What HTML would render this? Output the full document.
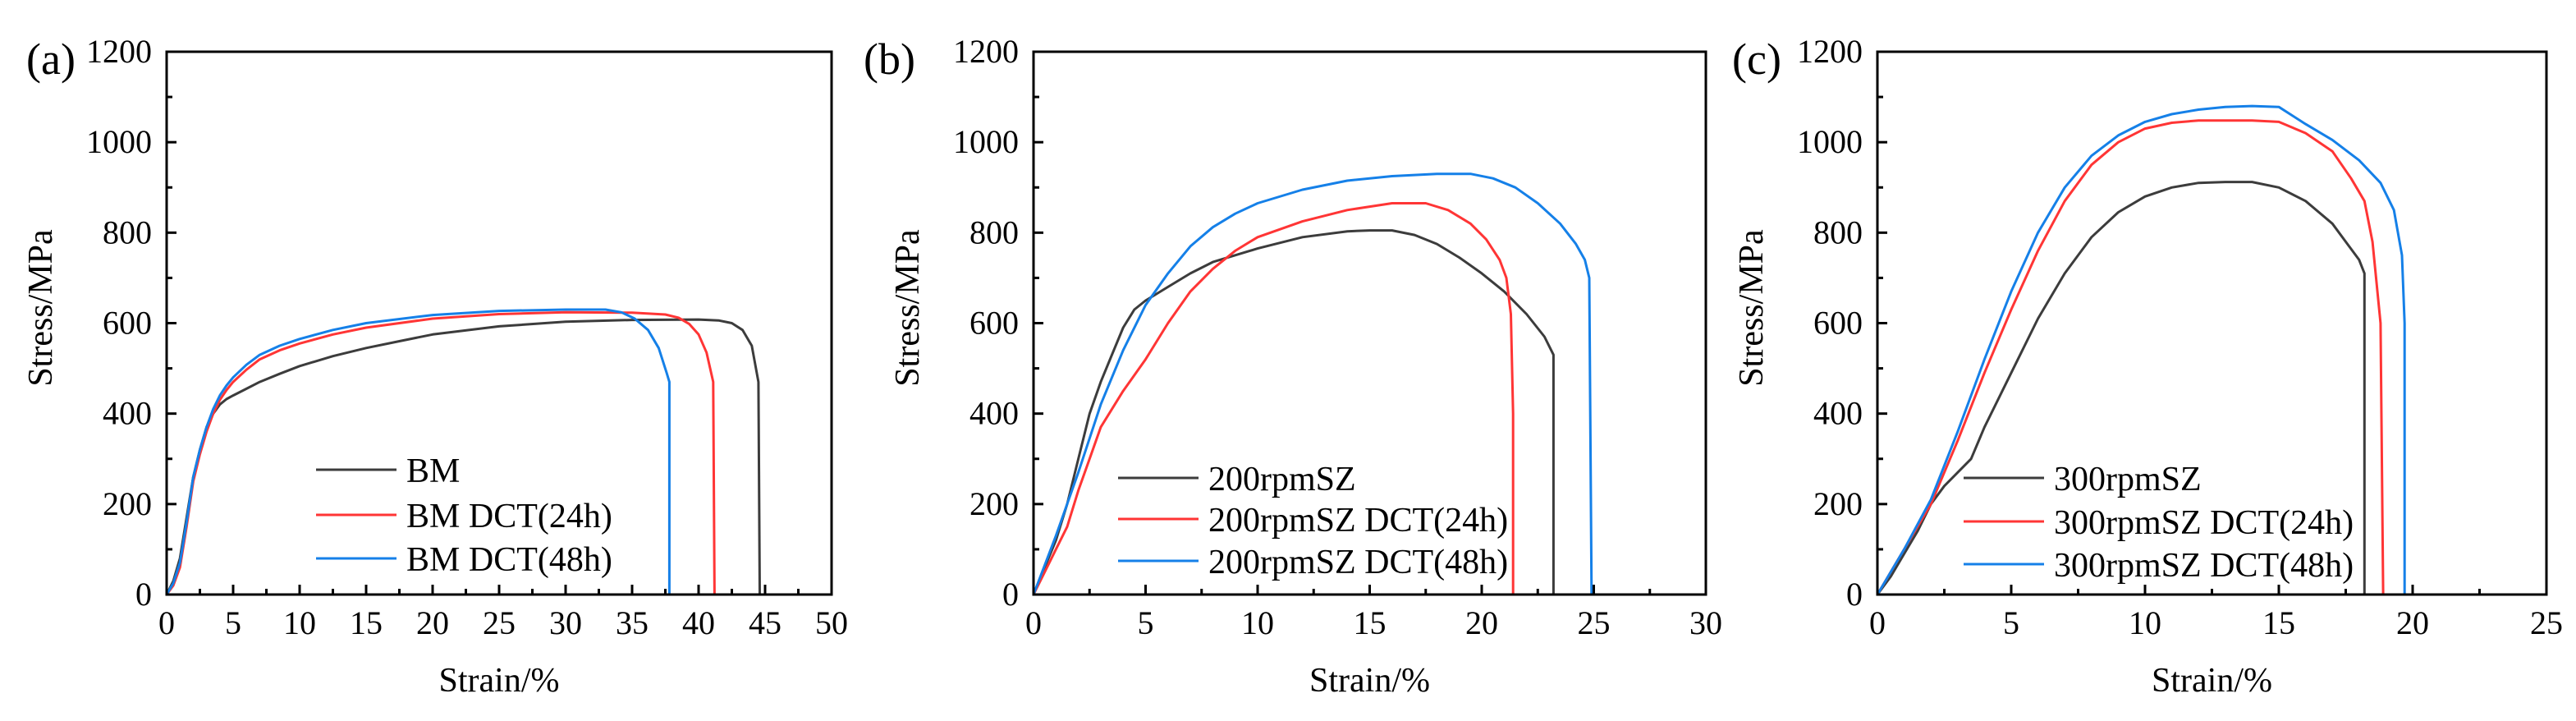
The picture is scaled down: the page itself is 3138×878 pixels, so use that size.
<!DOCTYPE html>
<html><head><meta charset="utf-8"><style>
html,body{margin:0;padding:0;background:#fff;}
svg, svg text{font-family:"Liberation Serif","Times New Roman",serif;}
</style></head><body>
<svg id="fig" width="3138" height="873" viewBox="0 0 3138 873" font-family="Liberation Serif, serif"></svg>
<script>
// Panel (a) data
const aBM = [[0,0],[0.5,30],[1,80],[1.5,170],[2,260],[2.5,320],[3,370],[3.5,400],[4,420],[4.5,432],[5,440],[6,455],[7,470],[8.5,488],[10,505],[12.5,527],[15,545],[17.5,560],[20,575],[25,593],[30,603],[35,607],[40,608],[41.5,606],[42.5,600],[43.3,585],[44,550],[44.5,470],[44.6,0]];
const aDCT24 = [[0,0],[0.5,20],[1,60],[1.5,150],[2,250],[2.5,310],[3,360],[3.5,400],[4,430],[4.5,452],[5,470],[6,497],[7,520],[8.5,540],[10,555],[12.5,575],[15,590],[20,610],[25,620],[30,624],[35,623],[37.5,619],[38.5,612],[39.3,598],[40,575],[40.6,535],[41.1,470],[41.2,0]];
const aDCT48 = [[0,0],[0.5,25],[1,70],[1.5,160],[2,260],[2.5,320],[3,370],[3.5,410],[4,440],[4.5,462],[5,480],[6,508],[7,530],[8.5,550],[10,565],[12.5,585],[15,600],[20,618],[25,627],[30,630],[33,630],[34.2,624],[35.2,610],[36.2,585],[37,545],[37.6,490],[37.8,470],[37.8,0]];
// Panel (b) data
const bSZ = [[0,0],[1,120],[1.5,200],[2,300],[2.5,400],[3,470],[3.5,530],[4,590],[4.5,630],[5,650],[6,680],[7,710],[8,735],[10,765],[12,790],[14,803],[15,805],[16,805],[17,795],[18,775],[19,745],[20,710],[21,670],[22,620],[22.8,570],[23.2,530],[23.2,0]];
const bDCT24 = [[0,0],[0.5,50],[1,100],[1.5,150],[2,230],[2.5,300],[3,370],[4,450],[5,520],[6,600],[7,670],[8,720],[9,760],[10,790],[12,825],[14,850],[16,865],[17.5,865],[18.5,850],[19.5,820],[20.2,785],[20.8,740],[21.1,700],[21.3,620],[21.4,400],[21.4,0]];
const bDCT48 = [[0,0],[1,130],[2,270],[3,420],[4,540],[5,640],[6,710],[7,770],[8,812],[9,842],[10,865],[12,895],[14,915],[16,925],[18,930],[19.5,930],[20.5,920],[21.5,900],[22.5,865],[23.5,820],[24.2,775],[24.6,740],[24.8,700],[24.9,0]];
// Panel (c) data
const cSZ = [[0,0],[0.5,40],[1,90],[1.5,140],[2,200],[2.5,240],[3,270],[3.5,300],[4,370],[5,490],[6,610],[7,710],[8,790],[9,845],[10,880],[11,900],[12,910],[13,912],[14,912],[15,900],[16,870],[17,820],[17.5,780],[18,740],[18.2,710],[18.2,0]];
const cDCT24 = [[0,0],[1,100],[2,200],[3,340],[4,490],[5,630],[6,760],[7,870],[8,950],[9,1000],[10,1030],[11,1043],[12,1048],[14,1048],[15,1045],[16,1020],[17,980],[17.7,920],[18.2,870],[18.5,780],[18.8,600],[18.9,0]];
const cDCT48 = [[0,0],[1,100],[2,210],[3,360],[4,520],[5,670],[6,800],[7,900],[8,970],[9,1015],[10,1045],[11,1062],[12,1072],[13,1078],[14,1080],[15,1078],[16,1040],[17,1005],[18,960],[18.8,910],[19.3,850],[19.6,750],[19.7,600],[19.7,0]];
const yTicks = [0,200,400,600,800,1000,1200];
const aXTicks = [0,5,10,15,20,25,30,35,40,45,50];
const bXTicks = [0,5,10,15,20,25,30];
const cXTicks = [0,5,10,15,20,25];
const aLegend = ["BM","BM DCT(24h)","BM DCT(48h)"];
const bLegend = ["200rpmSZ","200rpmSZ DCT(24h)","200rpmSZ DCT(48h)"];
const cLegend = ["300rpmSZ","300rpmSZ DCT(24h)","300rpmSZ DCT(48h)"];

const NS="http://www.w3.org/2000/svg";
const svg=document.getElementById('fig');
const colors=["#3c3c3c","#ff3535","#1580e8"];
const FF="Liberation Serif, serif";
function mk(tag,attrs,parent){const e=document.createElementNS(NS,tag);for(const k in attrs)e.setAttribute(k,attrs[k]);if(tag==='text')e.setAttribute('font-family',FF);(parent||svg).appendChild(e);return e;}

function panel(cfg){
  const g=mk('g',{});
  
  
  const L=cfg.left,R=cfg.right,T=63,B=724;
  const xmax=cfg.xt[cfg.xt.length-1];
  const sx=v=>L+(R-L)*v/xmax;
  const sy=v=>B-(B-T)*v/1200;
  cfg.series.forEach((s,i)=>{
    const p=mk('polyline',{points:s.map(d=>sx(d[0]).toFixed(1)+','+sy(d[1]).toFixed(1)).join(' '),fill:'none',stroke:colors[i],'stroke-width':3,'stroke-linejoin':'round'},g);
    
    
  });
  const f=mk('rect',{x:L,y:T,width:R-L,height:B-T,fill:'none',stroke:'#000','stroke-width':3},g);
  
  
  const step=cfg.xt[1]-cfg.xt[0];
  for(let v=0;v<=xmax+1e-9;v+=step/2){
    const major=Math.abs(v/step-Math.round(v/step))<1e-6;
    mk('line',{x1:sx(v),x2:sx(v),y1:B,y2:B-(major?12:7),stroke:'#000','stroke-width':3},g);
  }
  cfg.xt.forEach(v=>{
    const t=mk('text',{x:sx(v),y:772,'font-size':40,'text-anchor':'middle'},g);
    t.textContent=v;
    
    
  });
  for(let v=0;v<=1200;v+=100){
    const major=v%200===0;
    mk('line',{x1:L,x2:L+(major?12:7),y1:sy(v),y2:sy(v),stroke:'#000','stroke-width':3},g);
  }
  yTicks.forEach(v=>{
    const t=mk('text',{x:L-18,y:sy(v)+13,'font-size':40,'text-anchor':'end'},g);
    t.textContent=v;
    
    
  });
  const xt=mk('text',{x:(L+R)/2,y:842,'font-size':42,'text-anchor':'middle'},g);
  xt.textContent='Strain/%';
  
  
  const yx=L-140, yy=375;
  const yt=mk('text',{x:yx,y:yy,'font-size':42,'text-anchor':'middle',transform:`rotate(-90 ${yx} ${yy})`},g);
  yt.textContent='Stress/MPa';
  
  
  const pl=mk('text',{x:cfg.labelX,y:90,'font-size':54},g);
  pl.textContent='('+cfg.id+')';
  
  
  cfg.legend.forEach((name,i)=>{
    const y=cfg.legY[i];
    const ln=mk('line',{x1:cfg.legX,x2:cfg.legX+98,y1:y,y2:y,stroke:colors[i],'stroke-width':3},g);
    
    
    const t=mk('text',{x:cfg.legX+110,y:y+15,'font-size':42},g);
    t.textContent=name;
    
    
  });
}
panel({id:'a',left:203,right:1013,xt:aXTicks,series:[aBM,aDCT24,aDCT48],legend:aLegend,labelX:32,legX:385,legY:[572,627,680]});
panel({id:'b',left:1259,right:2078,xt:bXTicks,series:[bSZ,bDCT24,bDCT48],legend:bLegend,labelX:1052,legX:1362,legY:[582,632,683]});
panel({id:'c',left:2287,right:3102,xt:cXTicks,series:[cSZ,cDCT24,cDCT48],legend:cLegend,labelX:2110,legX:2392,legY:[582,635,687]});
</script>
</body></html>
